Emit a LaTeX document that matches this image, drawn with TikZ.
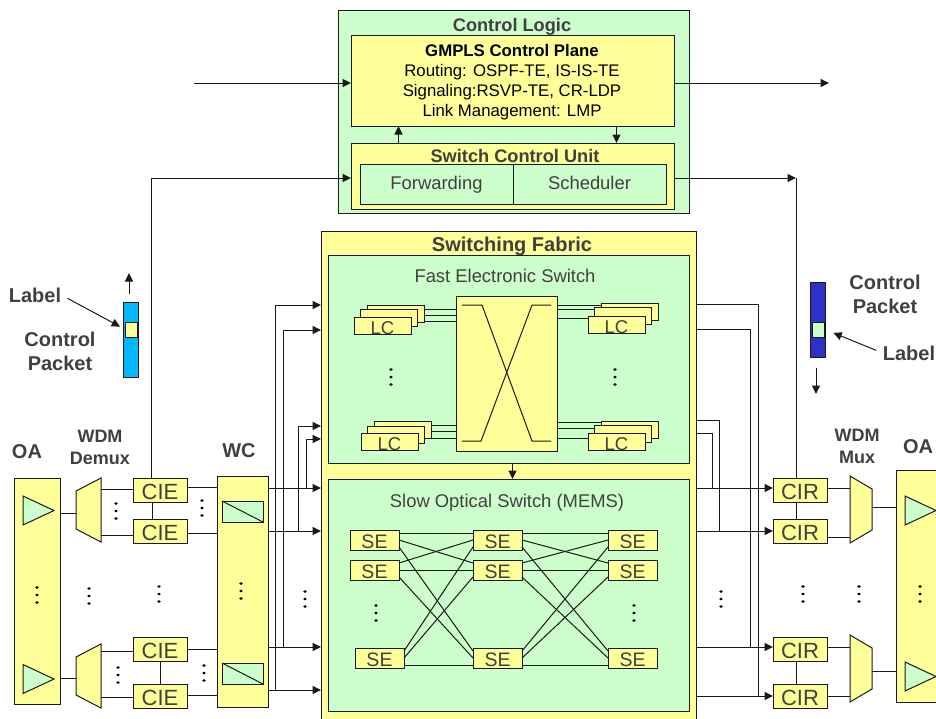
\documentclass[tikz,border=0pt]{standalone}
\usepackage{fontspec}
\setmainfont{Liberation Sans}
\usetikzlibrary{arrows.meta,calc}
\definecolor{boxyellow}{HTML}{FFFF99}
\definecolor{boxgreen}{HTML}{CCFFCC}
\definecolor{inkline}{HTML}{1A1A1A}
\definecolor{inktext}{HTML}{404040}
\definecolor{pktcyan}{HTML}{00B8FF}
\definecolor{pktblue}{HTML}{3030C8}
\newcommand{\threedots}[2]{\foreach \dy in {-7.5,0,7.5} \fill[black] (#1,#2+\dy) ellipse (1.8 and 1.4);}

\begin{document}
\begin{tikzpicture}[
    x=1pt, y=-1pt,
    box/.style={draw=inkline, line width=1pt, inner sep=0pt, outer sep=0pt, text=inktext},
    yel/.style={box, fill=boxyellow},
    grn/.style={box, fill=boxgreen},
    cie/.style={yel, minimum width=54pt, minimum height=24pt, text height=19pt, text depth=0pt, font=\fontsize{22}{24}\selectfont},
    lc/.style={yel, minimum width=57pt, minimum height=17pt, text height=16pt, text depth=0pt, font=\fontsize{18.5}{20}\selectfont},
    se/.style={yel, minimum width=49pt, minimum height=20pt, text height=16pt, text depth=0pt, font=\fontsize{19.5}{21}\selectfont},
    slot/.style={inner sep=0pt, outer sep=0pt},
    amp/.style={slot, minimum width=31pt, minimum height=29pt},
    wcell/.style={grn, minimum width=41pt, minimum height=21pt},
    demux/.style={slot, minimum width=25pt, minimum height=64pt},
    muxer/.style={slot, minimum width=22pt, minimum height=67pt},
    part/.style={grn, minimum width=153pt, minimum height=40pt, text height=14pt, text depth=3pt, font=\fontsize{18.4}{20}\selectfont},
    head/.style={inner sep=0pt, text=inktext, font=\fontsize{20}{24}\selectfont\bfseries, align=center},
    titl/.style={head, font=\fontsize{18.2}{20}\selectfont\bfseries},
    tagtxt/.style={head, font=\fontsize{18}{22}\selectfont\bfseries},
    sub/.style={inner sep=0pt, text=inktext, font=\fontsize{18.4}{20}\selectfont},
    lnk/.style={line width=1pt, draw=inkline},
    flow/.style={lnk, -{Triangle[length=8.5pt,width=8pt]}},
  ]
  \clip (0,0) rectangle (936,718);

  % control logic
  \node[grn, minimum width=351pt, minimum height=203pt] (logic) at (513.5,111.5) {};
  \node[titl] (logictxt) at (512,27) {Control Logic};
  \node[yel, minimum width=323pt, minimum height=91pt] (gmpls) at (512.5,80.5) {};
  \node[inner sep=0pt, text=black, align=center, font=\fontsize{16.8}{20}\selectfont] (gmplstxt) at (512,82)
        {\textbf{GMPLS Control Plane}\\Routing: OSPF-TE, IS-IS-TE\\Signaling:RSVP-TE, CR-LDP\\Link Management: LMP};
  \node[yel, minimum width=323pt, minimum height=66pt] (scu) at (512.5,176) {};
  \node[titl] (scutxt) at (515,156) {Switch Control Unit};
  \node[part] (fwd) at (436.5,184) {Forwarding};
  \node[part] (sched) at (589.5,184) {Scheduler};

  % switching fabric
  \node[yel, minimum width=375pt, minimum height=529pt] (fabric) at (508.5,495.5) {};
  \node[head] (fabrictxt) at (512,246) {Switching Fabric};
  \node[grn, minimum width=361pt, minimum height=208pt] (fast) at (508.5,359) {};
  \node[sub] (fasttxt) at (505,276) {Fast Electronic Switch};
  \node[grn, minimum width=361pt, minimum height=232pt] (slow) at (508.5,595) {};
  \node[sub] (slowtxt) at (507,503) {Slow Optical Switch (MEMS)};
  \node[yel, minimum width=101pt, minimum height=155pt] (xbar) at (506.5,373.5) {};

  % line cards
  \node[lc] (lcla3) at (395.5,313.5) {};
  \node[lc] (lcla2) at (389.3,317.5) {};
  \node[lc] (lcla1) at (382.5,326) {LC};
  \node[lc] (lclb3) at (402.5,430) {};
  \node[lc] (lclb2) at (395.5,435) {};
  \node[lc] (lclb1) at (389.5,442) {LC};
  \node[lc] (lcra3) at (629.5,311.5) {};
  \node[lc] (lcra2) at (623,316) {};
  \node[lc] (lcra1) at (616.5,325) {LC};
  \node[lc] (lcrb3) at (629.5,430) {};
  \node[lc] (lcrb2) at (623,434) {};
  \node[lc] (lcrb1) at (616.5,442) {LC};

  % switch elements
  \foreach \r/\yy/\xa in {1/540/374.5, 2/570/374.5, 3/658/379.5} {
    \node[se] (sel\r) at (\xa,\yy) {SE};
    \node[se] (sem\r) at (497.5,\yy) {SE};
    \node[se] (ser\r) at (632.5,\yy) {SE};
  }

  % line ports
  \node[yel, minimum width=46pt, minimum height=226pt] (oal) at (37,591) {};
  \node[amp] (ampl1) at (38.5,510.5) {};
  \node[amp] (ampl2) at (38.5,679) {};
  \node[demux] (dmx1) at (88.5,510) {};
  \node[demux] (dmx2) at (88.5,676) {};
  \node[cie] (cie1) at (160,490) {CIE};
  \node[cie] (cie2) at (160,531) {CIE};
  \node[cie] (cie3) at (160,649) {CIE};
  \node[cie] (cie4) at (160,696) {CIE};
  \node[yel, minimum width=51pt, minimum height=231pt] (wc) at (242.5,591.5) {};
  \node[wcell] (wcv1) at (242.5,511.5) {};
  \node[wcell] (wcv2) at (242.5,673.5) {};
  \node[cie] (cir1) at (800,490) {CIR};
  \node[cie] (cir2) at (800,531) {CIR};
  \node[cie] (cir3) at (800,649) {CIR};
  \node[cie] (cir4) at (800,696) {CIR};
  \node[muxer] (mux1) at (861,509.5) {};
  \node[muxer] (mux2) at (861,668.5) {};
  \node[yel, minimum width=64pt, minimum height=232pt] (oar) at (928,586) {};
  \node[amp] (ampr1) at (920.5,510.5) {};
  \node[amp] (ampr2) at (920.5,676.5) {};

  % tapered outlines
  \foreach \n in {ampl1,ampl2,ampr1,ampr2}
    \draw[grn] (\n.north west) -- (\n.east) -- (\n.south west) -- cycle;
  \foreach \n in {dmx1,dmx2}
    \draw[yel] (\n.north east) -- ($(\n.north west)+(0,13)$) -- ($(\n.south west)+(0,-13)$) -- (\n.south east) -- cycle;
  \foreach \n in {mux1,mux2}
    \draw[yel] (\n.north west) -- ($(\n.north east)+(0,13)$) -- ($(\n.south east)+(0,-13)$) -- (\n.south west) -- cycle;

  % packets and side labels
  \node[box, fill=pktcyan, minimum width=15pt, minimum height=75pt] (pktl) at (130.5,339.5) {};
  \node[yel, minimum width=12.5pt, minimum height=15pt] (tagl) at (131.7,329.5) {};
  \node[box, fill=pktblue, minimum width=15pt, minimum height=75pt] (pktr) at (817.5,319.5) {};
  \node[grn, minimum width=12.5pt, minimum height=15pt] (tagr) at (818.7,329.5) {};
  \node[head] (lbll) at (35,295) {Label};
  \node[head] (ctrll) at (60,351) {Control\\Packet};
  \node[head] (lblr) at (909,353) {Label};
  \node[head] (ctrlr) at (885,294) {Control\\Packet};
  \node[head] (oatxtl) at (27,452) {OA};
  \node[tagtxt] (demuxtxt) at (100,447) {WDM\\Demux};
  \node[head] (wctxt) at (239,451) {WC};
  \node[tagtxt] (muxtxt) at (857,446) {WDM\\Mux};
  \node[head] (oatxtr) at (918,447) {OA};

  \coordinate (ctrlin) at (194,83);
  \coordinate (ctrlout) at (829,83);
  \coordinate (scuturn) at (796,178);

  % control flow
  \draw[flow] (ctrlin) -- (gmpls.west |- ctrlin);
  \draw[flow] (gmpls.east |- ctrlout) -- (ctrlout);
  \draw[flow] (scu.north -| 398.5,0) -- (gmpls.south -| 398.5,0);
  \draw[flow] (gmpls.south -| 616.5,0) -- (scu.north -| 616.5,0);
  \draw[flow] (cie1.north -| 151,0) |- (scu.west |- scuturn);
  \draw[flow] (scu.east |- scuturn) -- (scuturn);
  \draw[lnk] (cir1.north -| scuturn) -- (scuturn);
  \draw[flow] (fast.south -| 512.5,0) -- (slow.north -| 512.5,0);

  % wavelength side
  \draw[lnk] (oal.east |- 0,513) -- (dmx1.west |- 0,513);
  \draw[lnk] (oal.east |- 0,678) -- (dmx2.west |- 0,678);
  \draw[lnk] (dmx1.east |- 0,489) -- (cie1.west |- 0,489);
  \draw[lnk] (dmx1.east |- 0,535) -- (cie2.west |- 0,535);
  \draw[lnk] (dmx2.east |- 0,651) -- (cie3.west |- 0,651);
  \draw[lnk] (dmx2.east |- 0,697) -- (cie4.west |- 0,697);
  \draw[lnk] (cie1.south -| 152,0) -- (cie2.north -| 152,0);
  \draw[lnk] (cie3) -- (cie4);
  \draw[lnk] (cie1.east |- 0,487) -- (wc.west |- 0,487);
  \draw[lnk] (cie2.east |- 0,533) -- (wc.west |- 0,533);
  \draw[lnk] (cie3.east |- 0,649) -- (wc.west |- 0,649);
  \draw[lnk] (cie4.east |- 0,695) -- (wc.west |- 0,695);
  \draw[lnk] (wcv1.north west) -- (wcv1.south east);
  \draw[lnk] (wcv2.north west) -- (wcv2.south east);
  \foreach \xx/\ya/\yb in {275/690/305, 283/647/330, 298/531/426, 306/488/439} {
    \draw[flow] (wc.east |- 0,\ya) -- (fabric.west |- 0,\ya);
    \draw[flow] (\xx,\ya) |- (fabric.west |- 0,\yb);
  }
  \foreach \n/\xx/\ya/\yb in {1/712/488/433, 2/719/531/420, 3/750/647/329, 4/758/696/304} {
    \draw[flow] (fabric.east |- 0,\ya) -- (cir\n.west |- 0,\ya);
    \draw[lnk] (\xx,\ya) |- (fabric.east |- 0,\yb);
  }
  \draw[lnk] (cir1.south -| scuturn) -- (cir2.north -| scuturn);
  \draw[lnk] (cir3.south -| scuturn) -- (cir4.north -| scuturn);
  \draw[lnk] (cir1.east |- 0,488) -- (mux1.west |- 0,488);
  \draw[lnk] (cir2.east |- 0,537) -- (mux1.west |- 0,537);
  \draw[lnk] (cir3.east |- 0,647) -- (mux2.west |- 0,647);
  \draw[lnk] (cir4.east |- 0,696) -- (mux2.west |- 0,696);
  \draw[lnk] (mux1.east |- 0,507) -- (oar.west |- 0,507);
  \draw[lnk] (mux2.east |- 0,671) -- (oar.west |- 0,671);

  % line card links
  \foreach \yy in {309,315,321} \draw[lnk] (lcla3.east |- 0,\yy) -- (xbar.west |- 0,\yy);
  \foreach \yy in {425,431,438} \draw[lnk] (lclb3.east |- 0,\yy) -- (xbar.west |- 0,\yy);
  \foreach \n/\yy in {3/305,2/309,1/318} \draw[lnk] (xbar.east |- 0,\yy) -- (lcra\n.west |- 0,\yy);
  \foreach \n/\yy in {3/422,2/428,1/438} \draw[lnk] (xbar.east |- 0,\yy) -- (lcrb\n.west |- 0,\yy);

  % crossbar
  \draw[lnk] (462,305) -- (482,305) -- (532,441) -- (551,441);
  \draw[lnk] (462,441) -- (481,441) -- (532,305) -- (551,305);

  % clos links
  \foreach \i in {1,2,3} \foreach \j in {1,2,3} {
    \draw[lnk] ($(sel\i.east)+(0,\j*7-14)$) -- ($(sem\j.west)+(0,\i*7-14)$);
    \draw[lnk] ($(sem\i.east)+(0,\j*7-14)$) -- ($(ser\j.west)+(0,\i*7-14)$);
  }

  % packets
  \draw[flow] ($(pktl.north)+(-1.5,-8)$) -- ++(0,-21);
  \draw[flow] ($(pktr.south)+(-1.5,11)$) -- ++(0,26);
  \draw[flow, shorten <=7pt, shorten >=6pt] (lbll.east) -- (tagl.west);
  \draw[flow, shorten <=7pt, shorten >=9pt] (lblr.west) -- (tagr.east);

  % ellipsis marks
  \threedots{391}{377}
  \threedots{615}{377}
  \threedots{376}{613}
  \threedots{634}{613}
  \threedots{37}{595}
  \threedots{89}{596}
  \threedots{159}{594}
  \threedots{241}{591}
  \threedots{305}{599}
  \threedots{116}{511}
  \threedots{202}{508}
  \threedots{118}{675}
  \threedots{204}{673}
  \threedots{721}{599}
  \threedots{803}{594}
  \threedots{859}{594}
  \threedots{920}{594}
\end{tikzpicture}
\end{document}
